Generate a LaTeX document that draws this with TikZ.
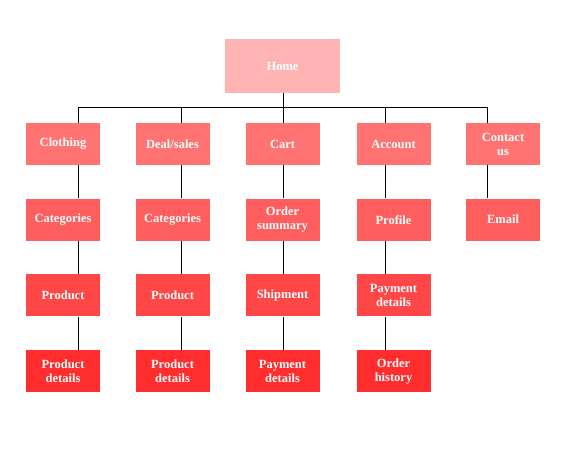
\documentclass[tikz,border=0pt]{standalone}
\usepackage{fontspec}
\setmainfont{Liberation Serif}
\usetikzlibrary{positioning}

\definecolor{homecol}{HTML}{FFB3B3}
\definecolor{levone}{HTML}{FF7373}
\definecolor{levtwo}{HTML}{FF5E5E}
\definecolor{levthree}{HTML}{FF4747}
\definecolor{levfour}{HTML}{FF2D2D}

\begin{document}
\begin{tikzpicture}[x=1pt,y=-1pt,
	box/.style={draw=none,text=white,align=center,inner sep=0pt,minimum width=74pt,minimum height=42pt,font=\bfseries\fontsize{12.5}{14}\selectfont},
	node distance=33pt,line width=0.7pt]
		\useasboundingbox (0,0) rectangle (563,452);

		\node[box,fill=homecol,minimum width=115pt,minimum height=54pt] (home) at (282.5,66) {Home};

		\node[box,fill=levone] (c1) at (63,144) {Clothing};
		\node[box,fill=levone] (c2) at (172.5,144) {Deal/sales};
		\node[box,fill=levone] (c3) at (282.5,144) {Cart};
		\node[box,fill=levone] (c4) at (393.5,144) {Account};
		\node[box,fill=levone] (c5) at (503,144) {Contact\\us};

		\node[box,fill=levtwo,below=of c1] (s1) {Categories};
		\node[box,fill=levtwo,below=of c2] (s2) {Categories};
		\node[box,fill=levtwo,below=of c3] (s3) {Order\\summary};
		\node[box,fill=levtwo,below=of c4] (s4) {Profile};
		\node[box,fill=levtwo,below=of c5] (s5) {Email};

		\node[box,fill=levthree,below=of s1] (p1) {Product};
		\node[box,fill=levthree,below=of s2] (p2) {Product};
		\node[box,fill=levthree,below=of s3] (p3) {Shipment};
		\node[box,fill=levthree,below=of s4] (p4) {Payment\\details};

		\node[box,fill=levfour,below=of p1] (d1) {Product\\details};
		\node[box,fill=levfour,below=of p2] (d2) {Product\\details};
		\node[box,fill=levfour,below=of p3] (d3) {Payment\\details};
		\node[box,fill=levfour,below=of p4] (d4) {Order\\history};

		% line positions
		\coordinate (l1) at (78,107);
		\coordinate (l2) at (181,107);
		\coordinate (l3) at (283,107);
		\coordinate (l4) at (385,107);
		\coordinate (l5) at (487,107);

		\draw (home.south -| l3) -- (l3);
		\draw (l1) -- (l5);
		\foreach \i in {1,...,5}
			\draw (l\i) -- (l\i |- c\i.north)
				  (l\i |- c\i.south) -- (l\i |- s\i.north);
		\foreach \i in {1,...,4}
			\draw (l\i |- s\i.south) -- (l\i |- p\i.north)
				  (l\i |- p\i.south) -- (l\i |- d\i.north);
\end{tikzpicture}
\end{document}
